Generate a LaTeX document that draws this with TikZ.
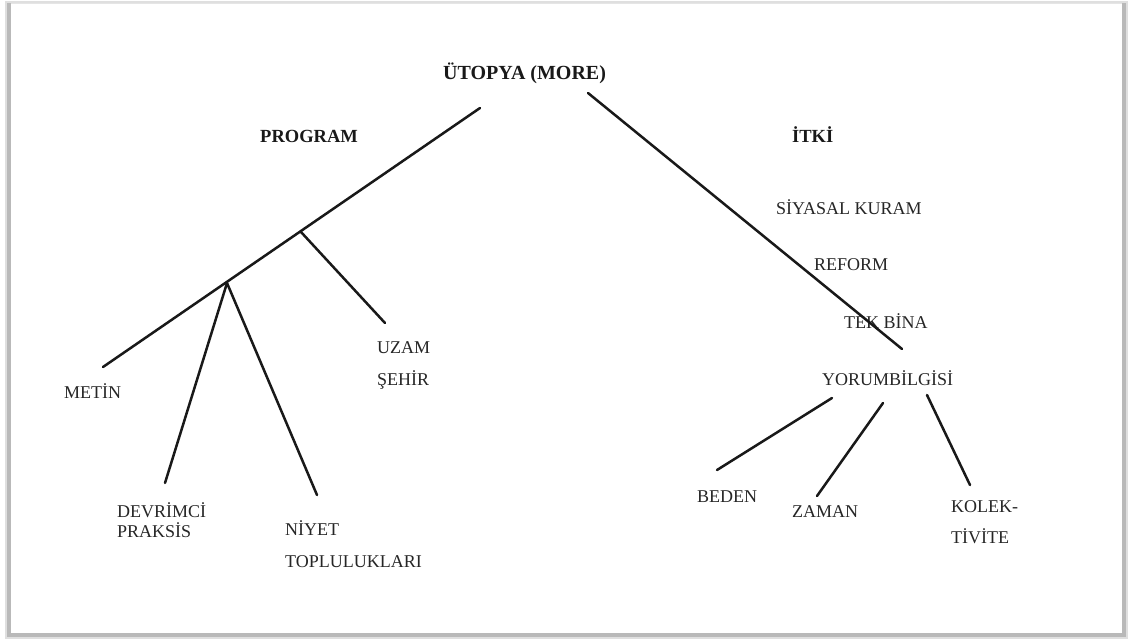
\documentclass[tikz,border=0pt]{standalone}
\usepackage{fontspec}
\setmainfont{Liberation Serif}
\begin{document}
\begin{tikzpicture}[x=1pt,y=-1pt,
  lab/.style={inner sep=0pt,anchor=base west,text=black!85,font=\fontsize{18}{20}\selectfont,align=left},
  blab/.style={inner sep=0pt,anchor=base west,text=black!90,font=\fontsize{18.5}{20}\selectfont\bfseries},
  br/.style={line width=2.5pt,line cap=round,black!90}]
\useasboundingbox (0,0) rectangle (1130,639);
% frame with shadow
\fill[gray!25] (5,1) rectangle (1128,639);
\fill[gray!55] (7,3) rectangle (1126,637);
\fill[white] (11,4) rectangle (1122,633);
\draw[gray!20,line width=1pt] (11,3.5) -- (1122,3.5);
% labels
\node[blab,font=\fontsize{20}{22}\selectfont\bfseries] (root) at (443,80) {ÜTOPYA (MORE)};
\node[blab] (prog) at (260,143) {PROGRAM};
\node[blab] (itki) at (792,143) {İTKİ};
\node[lab] (siy) at (776,215) {SİYASAL KURAM};
\node[lab] (ref) at (814,270) {REFORM};
\node[lab] (tek) at (844,328) {TEK BİNA};
\node[lab] (yor) at (822,385) {YORUMBİLGİSİ};
\node[lab] (met) at (64,398) {METİN};
\node[lab] (uzam) at (377,385) {UZAM\\[12pt]ŞEHİR};
\node[lab] (dev) at (117,537) {DEVRİMCİ\\PRAKSİS};
\node[lab] (niy) at (285,567) {NİYET\\[12pt]TOPLULUKLARI};
\node[lab] (bed) at (697,502) {BEDEN};
\node[lab] (zam) at (792,517) {ZAMAN};
\node[lab] (kol) at (951,543) {KOLEK-\\[11pt]TİVİTE};
% line points
\coordinate (lt) at (480,108);
\coordinate (lb) at (103,367);
\coordinate (j1) at (301,232);
\coordinate (j2) at (227,283);
\coordinate (ue) at (385,323);
\coordinate (de) at (165,483);
\coordinate (ne) at (317,495);
\coordinate (rt) at (588,93);
\coordinate (rb) at (902,349);
\coordinate (b1) at (832,398);
\coordinate (b2) at (717,470);
\coordinate (z1) at (883,403);
\coordinate (z2) at (817,496);
\coordinate (k1) at (927,395);
\coordinate (k2) at (970,485);
% connectors
\draw[br] (lt) -- (lb);
\draw[br] (j1) -- (ue);
\draw[br] (j2) -- (de);
\draw[br] (j2) -- (ne);
\draw[br] (rt) -- (rb);
\draw[br] (b1) -- (b2);
\draw[br] (z1) -- (z2);
\draw[br] (k1) -- (k2);
\end{tikzpicture}
\end{document}
